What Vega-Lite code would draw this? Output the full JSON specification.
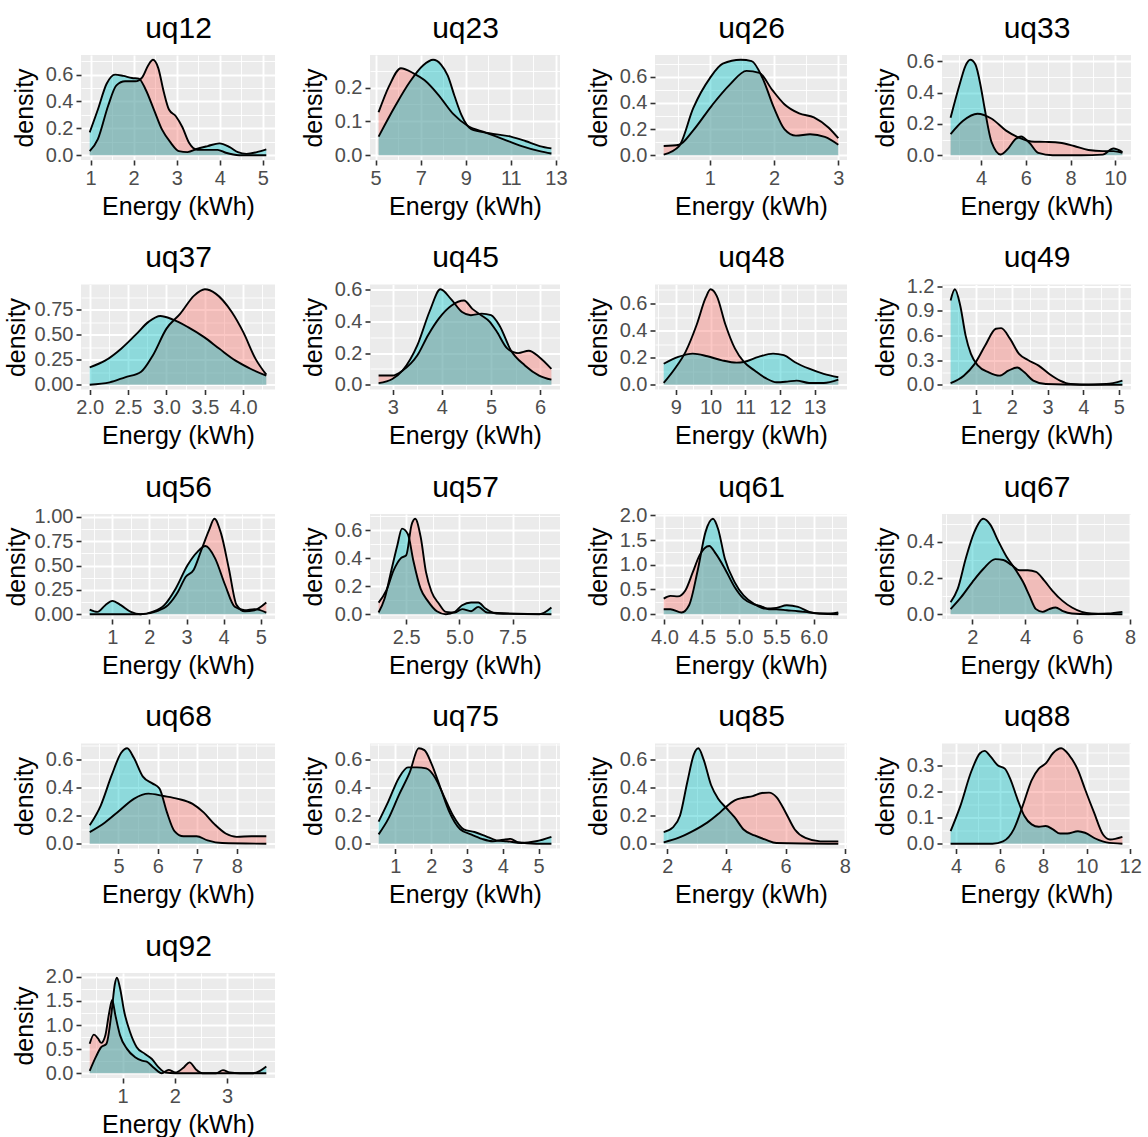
{
"$schema": "https://vega.github.io/schema/vega-lite/v6.json",
"padding": {"left": 4, "top": 13, "right": 0, "bottom": 0},
"columns": 4,
"align": "none",
"bounds": "flush",
"spacing": {"row": 124.5, "column": 95},
"datasets": {
"uq12": [{"x":0.98,"d":0.03,"s":"A"},{"x":1.17,"d":0.12,"s":"A"},{"x":1.41,"d":0.37,"s":"A"},{"x":1.6,"d":0.52,"s":"A"},{"x":1.8,"d":0.55,"s":"A"},{"x":2.04,"d":0.55,"s":"A"},{"x":2.2,"d":0.58,"s":"A"},{"x":2.34,"d":0.67,"s":"A"},{"x":2.45,"d":0.71,"s":"A"},{"x":2.57,"d":0.65,"s":"A"},{"x":2.7,"d":0.47,"s":"A"},{"x":2.82,"d":0.34,"s":"A"},{"x":2.98,"d":0.29,"s":"A"},{"x":3.13,"d":0.21,"s":"A"},{"x":3.29,"d":0.09,"s":"A"},{"x":3.48,"d":0.04,"s":"A"},{"x":3.72,"d":0.04,"s":"A"},{"x":3.95,"d":0.04,"s":"A"},{"x":4.14,"d":0.018,"s":"A"},{"x":4.45,"d":0,"s":"A"},{"x":5.08,"d":0,"s":"A"},
{"x":0.98,"d":0.17,"s":"B"},{"x":1.17,"d":0.34,"s":"B"},{"x":1.37,"d":0.53,"s":"B"},{"x":1.57,"d":0.6,"s":"B"},{"x":1.76,"d":0.59,"s":"B"},{"x":1.96,"d":0.575,"s":"B"},{"x":2.12,"d":0.57,"s":"B"},{"x":2.27,"d":0.495,"s":"B"},{"x":2.47,"d":0.34,"s":"B"},{"x":2.66,"d":0.19,"s":"B"},{"x":2.86,"d":0.093,"s":"B"},{"x":3.05,"d":0.03,"s":"B"},{"x":3.25,"d":0.023,"s":"B"},{"x":3.48,"d":0.048,"s":"B"},{"x":3.72,"d":0.068,"s":"B"},{"x":3.99,"d":0.088,"s":"B"},{"x":4.23,"d":0.06,"s":"B"},{"x":4.42,"d":0.023,"s":"B"},{"x":4.62,"d":0.01,"s":"B"},{"x":4.86,"d":0.023,"s":"B"},{"x":5.08,"d":0.043,"s":"B"}],
"uq23": [{"x":5.13,"d":0.127,"s":"A"},{"x":5.6,"d":0.205,"s":"A"},{"x":6.12,"d":0.257,"s":"A"},{"x":6.68,"d":0.242,"s":"A"},{"x":7.16,"d":0.222,"s":"A"},{"x":7.8,"d":0.177,"s":"A"},{"x":8.44,"d":0.122,"s":"A"},{"x":9.08,"d":0.087,"s":"A"},{"x":9.88,"d":0.067,"s":"A"},{"x":10.68,"d":0.047,"s":"A"},{"x":11.48,"d":0.027,"s":"A"},{"x":12.28,"d":0.012,"s":"A"},{"x":12.8,"d":0.005,"s":"A"},
{"x":5.13,"d":0.055,"s":"B"},{"x":5.88,"d":0.147,"s":"B"},{"x":6.52,"d":0.217,"s":"B"},{"x":7.1,"d":0.265,"s":"B"},{"x":7.55,"d":0.282,"s":"B"},{"x":7.9,"d":0.268,"s":"B"},{"x":8.2,"d":0.235,"s":"B"},{"x":8.5,"d":0.175,"s":"B"},{"x":8.8,"d":0.12,"s":"B"},{"x":9.24,"d":0.077,"s":"B"},{"x":10.04,"d":0.065,"s":"B"},{"x":11.0,"d":0.055,"s":"B"},{"x":11.64,"d":0.042,"s":"B"},{"x":12.28,"d":0.027,"s":"B"},{"x":12.8,"d":0.02,"s":"B"}],
"uq26": [{"x":0.28,"d":0.07,"s":"A"},{"x":0.52,"d":0.08,"s":"A"},{"x":0.74,"d":0.19,"s":"A"},{"x":1.03,"d":0.38,"s":"A"},{"x":1.31,"d":0.54,"s":"A"},{"x":1.57,"d":0.645,"s":"A"},{"x":1.77,"d":0.63,"s":"A"},{"x":1.97,"d":0.5,"s":"A"},{"x":2.16,"d":0.39,"s":"A"},{"x":2.39,"d":0.32,"s":"A"},{"x":2.62,"d":0.29,"s":"A"},{"x":2.85,"d":0.21,"s":"A"},{"x":3.0,"d":0.13,"s":"A"},
{"x":0.28,"d":0.005,"s":"B"},{"x":0.52,"d":0.07,"s":"B"},{"x":0.74,"d":0.36,"s":"B"},{"x":1.0,"d":0.59,"s":"B"},{"x":1.2,"d":0.7,"s":"B"},{"x":1.48,"d":0.73,"s":"B"},{"x":1.65,"d":0.72,"s":"B"},{"x":1.82,"d":0.59,"s":"B"},{"x":2.0,"d":0.36,"s":"B"},{"x":2.16,"d":0.2,"s":"B"},{"x":2.34,"d":0.15,"s":"B"},{"x":2.56,"d":0.16,"s":"B"},{"x":2.79,"d":0.14,"s":"B"},{"x":3.0,"d":0.08,"s":"B"}],
"uq33": [{"x":2.64,"d":0.135,"s":"A"},{"x":3.2,"d":0.22,"s":"A"},{"x":3.84,"d":0.265,"s":"A"},{"x":4.48,"d":0.233,"s":"A"},{"x":5.12,"d":0.157,"s":"A"},{"x":5.68,"d":0.113,"s":"A"},{"x":6.24,"d":0.088,"s":"A"},{"x":6.88,"d":0.085,"s":"A"},{"x":7.52,"d":0.08,"s":"A"},{"x":8.16,"d":0.059,"s":"A"},{"x":8.8,"d":0.033,"s":"A"},{"x":9.44,"d":0.026,"s":"A"},{"x":9.92,"d":0.026,"s":"A"},{"x":10.32,"d":0.015,"s":"A"},
{"x":2.64,"d":0.24,"s":"B"},{"x":3.04,"d":0.45,"s":"B"},{"x":3.3,"d":0.57,"s":"B"},{"x":3.52,"d":0.61,"s":"B"},{"x":3.75,"d":0.58,"s":"B"},{"x":4.0,"d":0.43,"s":"B"},{"x":4.16,"d":0.3,"s":"B"},{"x":4.48,"d":0.08,"s":"B"},{"x":4.88,"d":0.004,"s":"B"},{"x":5.2,"d":0.04,"s":"B"},{"x":5.52,"d":0.1,"s":"B"},{"x":5.79,"d":0.12,"s":"B"},{"x":6.16,"d":0.08,"s":"B"},{"x":6.56,"d":0.015,"s":"B"},{"x":7.2,"d":0,"s":"B"},{"x":8.48,"d":0,"s":"B"},{"x":9.44,"d":0.004,"s":"B"},{"x":9.92,"d":0.043,"s":"B"},{"x":10.32,"d":0.02,"s":"B"}],
"uq37": [{"x":2.0,"d":0.0,"s":"A"},{"x":2.26,"d":0.023,"s":"A"},{"x":2.46,"d":0.074,"s":"A"},{"x":2.67,"d":0.13,"s":"A"},{"x":2.82,"d":0.29,"s":"A"},{"x":3.0,"d":0.56,"s":"A"},{"x":3.18,"d":0.71,"s":"A"},{"x":3.36,"d":0.89,"s":"A"},{"x":3.5,"d":0.953,"s":"A"},{"x":3.64,"d":0.91,"s":"A"},{"x":3.85,"d":0.726,"s":"A"},{"x":4.0,"d":0.525,"s":"A"},{"x":4.16,"d":0.258,"s":"A"},{"x":4.3,"d":0.1,"s":"A"},
{"x":2.0,"d":0.174,"s":"B"},{"x":2.2,"d":0.24,"s":"B"},{"x":2.41,"d":0.36,"s":"B"},{"x":2.6,"d":0.5,"s":"B"},{"x":2.77,"d":0.63,"s":"B"},{"x":2.92,"d":0.686,"s":"B"},{"x":3.08,"d":0.652,"s":"B"},{"x":3.28,"d":0.575,"s":"B"},{"x":3.49,"d":0.475,"s":"B"},{"x":3.69,"d":0.358,"s":"B"},{"x":3.9,"d":0.24,"s":"B"},{"x":4.1,"d":0.157,"s":"B"},{"x":4.3,"d":0.09,"s":"B"}],
"uq45": [{"x":2.71,"d":0.058,"s":"A"},{"x":2.99,"d":0.058,"s":"A"},{"x":3.2,"d":0.09,"s":"A"},{"x":3.5,"d":0.186,"s":"A"},{"x":3.72,"d":0.315,"s":"A"},{"x":3.94,"d":0.42,"s":"A"},{"x":4.19,"d":0.5,"s":"A"},{"x":4.45,"d":0.533,"s":"A"},{"x":4.62,"d":0.48,"s":"A"},{"x":4.8,"d":0.44,"s":"A"},{"x":4.97,"d":0.4,"s":"A"},{"x":5.11,"d":0.34,"s":"A"},{"x":5.33,"d":0.23,"s":"A"},{"x":5.55,"d":0.2,"s":"A"},{"x":5.77,"d":0.215,"s":"A"},{"x":5.98,"d":0.176,"s":"A"},{"x":6.23,"d":0.1,"s":"A"},
{"x":2.71,"d":0.01,"s":"B"},{"x":2.99,"d":0.036,"s":"B"},{"x":3.2,"d":0.09,"s":"B"},{"x":3.5,"d":0.25,"s":"B"},{"x":3.75,"d":0.465,"s":"B"},{"x":3.97,"d":0.604,"s":"B"},{"x":4.19,"d":0.54,"s":"B"},{"x":4.41,"d":0.46,"s":"B"},{"x":4.59,"d":0.44,"s":"B"},{"x":4.81,"d":0.45,"s":"B"},{"x":5.0,"d":0.44,"s":"B"},{"x":5.18,"d":0.37,"s":"B"},{"x":5.4,"d":0.22,"s":"B"},{"x":5.69,"d":0.122,"s":"B"},{"x":5.98,"d":0.058,"s":"B"},{"x":6.23,"d":0.032,"s":"B"}],
"uq48": [{"x":8.65,"d":0.013,"s":"A"},{"x":8.97,"d":0.118,"s":"A"},{"x":9.28,"d":0.243,"s":"A"},{"x":9.6,"d":0.443,"s":"A"},{"x":9.86,"d":0.643,"s":"A"},{"x":10.0,"d":0.705,"s":"A"},{"x":10.18,"d":0.655,"s":"A"},{"x":10.43,"d":0.443,"s":"A"},{"x":10.7,"d":0.268,"s":"A"},{"x":10.96,"d":0.168,"s":"A"},{"x":11.27,"d":0.105,"s":"A"},{"x":11.59,"d":0.048,"s":"A"},{"x":11.9,"d":0.018,"s":"A"},{"x":12.21,"d":0.023,"s":"A"},{"x":12.48,"d":0.03,"s":"A"},{"x":12.84,"d":0.013,"s":"A"},{"x":13.26,"d":0.013,"s":"A"},{"x":13.68,"d":0.038,"s":"A"},
{"x":8.65,"d":0.155,"s":"B"},{"x":9.07,"d":0.205,"s":"B"},{"x":9.49,"d":0.23,"s":"B"},{"x":9.91,"d":0.21,"s":"B"},{"x":10.33,"d":0.18,"s":"B"},{"x":10.75,"d":0.163,"s":"B"},{"x":10.96,"d":0.168,"s":"B"},{"x":11.38,"d":0.205,"s":"B"},{"x":11.8,"d":0.23,"s":"B"},{"x":12.11,"d":0.218,"s":"B"},{"x":12.42,"d":0.168,"s":"B"},{"x":12.84,"d":0.118,"s":"B"},{"x":13.26,"d":0.08,"s":"B"},{"x":13.68,"d":0.055,"s":"B"}],
"uq49": [{"x":0.28,"d":0.02,"s":"A"},{"x":0.65,"d":0.11,"s":"A"},{"x":0.95,"d":0.25,"s":"A"},{"x":1.25,"d":0.476,"s":"A"},{"x":1.55,"d":0.68,"s":"A"},{"x":1.7,"d":0.688,"s":"A"},{"x":1.95,"d":0.557,"s":"A"},{"x":2.2,"d":0.374,"s":"A"},{"x":2.45,"d":0.3,"s":"A"},{"x":2.75,"d":0.232,"s":"A"},{"x":3.05,"d":0.13,"s":"A"},{"x":3.35,"d":0.05,"s":"A"},{"x":3.65,"d":0.008,"s":"A"},{"x":4.15,"d":0,"s":"A"},{"x":5.1,"d":0,"s":"A"},
{"x":0.28,"d":1.025,"s":"B"},{"x":0.4,"d":1.16,"s":"B"},{"x":0.55,"d":0.964,"s":"B"},{"x":0.7,"d":0.6,"s":"B"},{"x":0.85,"d":0.374,"s":"B"},{"x":1.05,"d":0.232,"s":"B"},{"x":1.35,"d":0.15,"s":"B"},{"x":1.65,"d":0.11,"s":"B"},{"x":1.9,"d":0.17,"s":"B"},{"x":2.15,"d":0.21,"s":"B"},{"x":2.35,"d":0.15,"s":"B"},{"x":2.6,"d":0.05,"s":"B"},{"x":2.95,"d":0.008,"s":"B"},{"x":3.95,"d":0,"s":"B"},{"x":4.65,"d":0.008,"s":"B"},{"x":5.1,"d":0.05,"s":"B"}],
"uq56": [{"x":0.39,"d":0,"s":"A"},{"x":1.13,"d":0,"s":"A"},{"x":1.76,"d":0,"s":"A"},{"x":2.19,"d":0.03,"s":"A"},{"x":2.5,"d":0.093,"s":"A"},{"x":2.77,"d":0.23,"s":"A"},{"x":2.98,"d":0.385,"s":"A"},{"x":3.19,"d":0.454,"s":"A"},{"x":3.4,"d":0.66,"s":"A"},{"x":3.61,"d":0.866,"s":"A"},{"x":3.75,"d":0.98,"s":"A"},{"x":3.93,"d":0.83,"s":"A"},{"x":4.14,"d":0.47,"s":"A"},{"x":4.35,"d":0.093,"s":"A"},{"x":4.57,"d":0.03,"s":"A"},{"x":4.83,"d":0.041,"s":"A"},{"x":5.15,"d":0.12,"s":"A"},
{"x":0.39,"d":0.048,"s":"B"},{"x":0.6,"d":0.024,"s":"B"},{"x":0.81,"d":0.093,"s":"B"},{"x":1.0,"d":0.137,"s":"B"},{"x":1.23,"d":0.093,"s":"B"},{"x":1.5,"d":0.024,"s":"B"},{"x":1.76,"d":0,"s":"B"},{"x":2.08,"d":0.024,"s":"B"},{"x":2.4,"d":0.093,"s":"B"},{"x":2.71,"d":0.265,"s":"B"},{"x":3.03,"d":0.505,"s":"B"},{"x":3.3,"d":0.643,"s":"B"},{"x":3.51,"d":0.7,"s":"B"},{"x":3.77,"d":0.574,"s":"B"},{"x":4.04,"d":0.3,"s":"B"},{"x":4.3,"d":0.076,"s":"B"},{"x":4.57,"d":0.041,"s":"B"},{"x":4.83,"d":0.052,"s":"B"},{"x":5.15,"d":0.017,"s":"B"}],
"uq57": [{"x":1.2,"d":0.083,"s":"A"},{"x":1.57,"d":0.171,"s":"A"},{"x":1.91,"d":0.314,"s":"A"},{"x":2.25,"d":0.4,"s":"A"},{"x":2.5,"d":0.42,"s":"A"},{"x":2.75,"d":0.636,"s":"A"},{"x":2.92,"d":0.68,"s":"A"},{"x":3.18,"d":0.55,"s":"A"},{"x":3.43,"d":0.3,"s":"A"},{"x":3.69,"d":0.16,"s":"A"},{"x":4.03,"d":0.076,"s":"A"},{"x":4.36,"d":0.017,"s":"A"},{"x":4.79,"d":0.012,"s":"A"},{"x":5.13,"d":0.036,"s":"A"},{"x":5.55,"d":0.021,"s":"A"},{"x":5.89,"d":0.052,"s":"A"},{"x":6.31,"d":0.012,"s":"A"},{"x":9.33,"d":0,"s":"A"},
{"x":1.2,"d":0.012,"s":"B"},{"x":1.48,"d":0.11,"s":"B"},{"x":1.82,"d":0.326,"s":"B"},{"x":2.08,"d":0.49,"s":"B"},{"x":2.3,"d":0.61,"s":"B"},{"x":2.58,"d":0.57,"s":"B"},{"x":2.83,"d":0.385,"s":"B"},{"x":3.18,"d":0.18,"s":"B"},{"x":3.52,"d":0.093,"s":"B"},{"x":3.94,"d":0.021,"s":"B"},{"x":4.36,"d":0,"s":"B"},{"x":4.79,"d":0.017,"s":"B"},{"x":5.13,"d":0.064,"s":"B"},{"x":5.55,"d":0.083,"s":"B"},{"x":5.89,"d":0.083,"s":"B"},{"x":6.23,"d":0.04,"s":"B"},{"x":6.74,"d":0.005,"s":"B"},{"x":8.77,"d":0,"s":"B"},{"x":9.33,"d":0.048,"s":"B"}],
"uq61": [{"x":3.99,"d":0.315,"s":"A"},{"x":4.08,"d":0.37,"s":"A"},{"x":4.18,"d":0.36,"s":"A"},{"x":4.28,"d":0.48,"s":"A"},{"x":4.38,"d":0.85,"s":"A"},{"x":4.47,"d":1.19,"s":"A"},{"x":4.6,"d":1.38,"s":"A"},{"x":4.69,"d":1.22,"s":"A"},{"x":4.81,"d":0.92,"s":"A"},{"x":4.94,"d":0.55,"s":"A"},{"x":5.06,"d":0.315,"s":"A"},{"x":5.2,"d":0.2,"s":"A"},{"x":5.3,"d":0.16,"s":"A"},{"x":5.4,"d":0.1,"s":"A"},{"x":5.5,"d":0.1,"s":"A"},{"x":5.64,"d":0.08,"s":"A"},{"x":5.79,"d":0.06,"s":"A"},{"x":5.94,"d":0.034,"s":"A"},{"x":6.08,"d":0.013,"s":"A"},{"x":6.33,"d":0,"s":"A"},
{"x":3.99,"d":0.1,"s":"B"},{"x":4.08,"d":0.1,"s":"B"},{"x":4.23,"d":0.034,"s":"B"},{"x":4.33,"d":0.18,"s":"B"},{"x":4.45,"d":0.92,"s":"B"},{"x":4.55,"d":1.66,"s":"B"},{"x":4.65,"d":1.93,"s":"B"},{"x":4.72,"d":1.72,"s":"B"},{"x":4.81,"d":1.12,"s":"B"},{"x":4.94,"d":0.65,"s":"B"},{"x":5.06,"d":0.38,"s":"B"},{"x":5.2,"d":0.21,"s":"B"},{"x":5.35,"d":0.114,"s":"B"},{"x":5.5,"d":0.128,"s":"B"},{"x":5.64,"d":0.18,"s":"B"},{"x":5.79,"d":0.148,"s":"B"},{"x":5.94,"d":0.047,"s":"B"},{"x":6.08,"d":0.013,"s":"B"},{"x":6.23,"d":0.013,"s":"B"},{"x":6.33,"d":0.034,"s":"B"}],
"uq67": [{"x":1.17,"d":0.028,"s":"A"},{"x":1.57,"d":0.094,"s":"A"},{"x":2.0,"d":0.178,"s":"A"},{"x":2.43,"d":0.253,"s":"A"},{"x":2.87,"d":0.305,"s":"A"},{"x":3.18,"d":0.3,"s":"A"},{"x":3.49,"d":0.272,"s":"A"},{"x":3.8,"d":0.243,"s":"A"},{"x":4.11,"d":0.243,"s":"A"},{"x":4.42,"d":0.234,"s":"A"},{"x":4.73,"d":0.187,"s":"A"},{"x":5.04,"d":0.131,"s":"A"},{"x":5.42,"d":0.075,"s":"A"},{"x":5.79,"d":0.037,"s":"A"},{"x":6.16,"d":0.013,"s":"A"},{"x":6.53,"d":0.004,"s":"A"},{"x":7.71,"d":0,"s":"A"},
{"x":1.17,"d":0.066,"s":"B"},{"x":1.44,"d":0.14,"s":"B"},{"x":1.75,"d":0.31,"s":"B"},{"x":2.06,"d":0.45,"s":"B"},{"x":2.41,"d":0.528,"s":"B"},{"x":2.68,"d":0.496,"s":"B"},{"x":2.99,"d":0.403,"s":"B"},{"x":3.3,"d":0.318,"s":"B"},{"x":3.61,"d":0.253,"s":"B"},{"x":3.93,"d":0.178,"s":"B"},{"x":4.17,"d":0.103,"s":"B"},{"x":4.42,"d":0.028,"s":"B"},{"x":4.67,"d":0.013,"s":"B"},{"x":4.92,"d":0.028,"s":"B"},{"x":5.17,"d":0.037,"s":"B"},{"x":5.42,"d":0.019,"s":"B"},{"x":5.79,"d":0.004,"s":"B"},{"x":6.41,"d":0,"s":"B"},{"x":7.16,"d":0.004,"s":"B"},{"x":7.71,"d":0.013,"s":"B"}],
"uq68": [{"x":4.27,"d":0.083,"s":"A"},{"x":4.65,"d":0.15,"s":"A"},{"x":5.02,"d":0.235,"s":"A"},{"x":5.39,"d":0.32,"s":"A"},{"x":5.76,"d":0.357,"s":"A"},{"x":6.14,"d":0.34,"s":"A"},{"x":6.51,"d":0.32,"s":"A"},{"x":6.88,"d":0.284,"s":"A"},{"x":7.16,"d":0.223,"s":"A"},{"x":7.44,"d":0.138,"s":"A"},{"x":7.72,"d":0.073,"s":"A"},{"x":8.0,"d":0.049,"s":"A"},{"x":8.37,"d":0.053,"s":"A"},{"x":8.75,"d":0.053,"s":"A"},
{"x":4.27,"d":0.131,"s":"B"},{"x":4.55,"d":0.272,"s":"B"},{"x":4.83,"d":0.49,"s":"B"},{"x":5.07,"d":0.648,"s":"B"},{"x":5.22,"d":0.68,"s":"B"},{"x":5.39,"d":0.612,"s":"B"},{"x":5.62,"d":0.478,"s":"B"},{"x":5.86,"d":0.43,"s":"B"},{"x":6.04,"d":0.393,"s":"B"},{"x":6.23,"d":0.223,"s":"B"},{"x":6.42,"d":0.09,"s":"B"},{"x":6.65,"d":0.053,"s":"B"},{"x":6.98,"d":0.053,"s":"B"},{"x":7.26,"d":0.024,"s":"B"},{"x":7.63,"d":0.005,"s":"B"},{"x":8.75,"d":0,"s":"B"}],
"uq75": [{"x":0.53,"d":0.066,"s":"A"},{"x":0.8,"d":0.176,"s":"A"},{"x":1.1,"d":0.346,"s":"A"},{"x":1.4,"d":0.505,"s":"A"},{"x":1.65,"d":0.676,"s":"A"},{"x":1.81,"d":0.663,"s":"A"},{"x":2.01,"d":0.566,"s":"A"},{"x":2.26,"d":0.395,"s":"A"},{"x":2.51,"d":0.224,"s":"A"},{"x":2.81,"d":0.102,"s":"A"},{"x":3.11,"d":0.066,"s":"A"},{"x":3.42,"d":0.034,"s":"A"},{"x":3.72,"d":0.017,"s":"A"},{"x":4.02,"d":0.029,"s":"A"},{"x":4.22,"d":0.034,"s":"A"},{"x":4.42,"d":0.01,"s":"A"},{"x":4.93,"d":0,"s":"A"},{"x":5.36,"d":0,"s":"A"},
{"x":0.53,"d":0.156,"s":"B"},{"x":0.8,"d":0.298,"s":"B"},{"x":1.1,"d":0.468,"s":"B"},{"x":1.35,"d":0.541,"s":"B"},{"x":1.6,"d":0.541,"s":"B"},{"x":1.86,"d":0.534,"s":"B"},{"x":2.11,"d":0.468,"s":"B"},{"x":2.36,"d":0.334,"s":"B"},{"x":2.61,"d":0.2,"s":"B"},{"x":2.91,"d":0.102,"s":"B"},{"x":3.21,"d":0.083,"s":"B"},{"x":3.52,"d":0.054,"s":"B"},{"x":3.82,"d":0.024,"s":"B"},{"x":4.12,"d":0.017,"s":"B"},{"x":4.52,"d":0.005,"s":"B"},{"x":4.93,"d":0.017,"s":"B"},{"x":5.36,"d":0.049,"s":"B"}],
"uq85": [{"x":1.88,"d":0.01,"s":"A"},{"x":2.37,"d":0.041,"s":"A"},{"x":2.86,"d":0.09,"s":"A"},{"x":3.35,"d":0.151,"s":"A"},{"x":3.72,"d":0.212,"s":"A"},{"x":3.97,"d":0.261,"s":"A"},{"x":4.28,"d":0.31,"s":"A"},{"x":4.58,"d":0.329,"s":"A"},{"x":4.89,"d":0.341,"s":"A"},{"x":5.2,"d":0.363,"s":"A"},{"x":5.44,"d":0.366,"s":"A"},{"x":5.69,"d":0.334,"s":"A"},{"x":6.0,"d":0.224,"s":"A"},{"x":6.31,"d":0.102,"s":"A"},{"x":6.67,"d":0.041,"s":"A"},{"x":7.17,"d":0.017,"s":"A"},{"x":7.78,"d":0.017,"s":"A"},
{"x":1.88,"d":0.083,"s":"B"},{"x":2.18,"d":0.115,"s":"B"},{"x":2.43,"d":0.2,"s":"B"},{"x":2.68,"d":0.444,"s":"B"},{"x":2.9,"d":0.64,"s":"B"},{"x":3.05,"d":0.683,"s":"B"},{"x":3.23,"d":0.602,"s":"B"},{"x":3.48,"d":0.42,"s":"B"},{"x":3.72,"d":0.322,"s":"B"},{"x":3.97,"d":0.261,"s":"B"},{"x":4.28,"d":0.188,"s":"B"},{"x":4.58,"d":0.102,"s":"B"},{"x":4.95,"d":0.059,"s":"B"},{"x":5.32,"d":0.029,"s":"B"},{"x":5.69,"d":0.005,"s":"B"},{"x":7.78,"d":0,"s":"B"}],
"uq88": [{"x":3.75,"d":0,"s":"A"},{"x":5.67,"d":0,"s":"A"},{"x":6.16,"d":0.009,"s":"A"},{"x":6.65,"d":0.055,"s":"A"},{"x":7.06,"d":0.145,"s":"A"},{"x":7.47,"d":0.243,"s":"A"},{"x":7.8,"d":0.288,"s":"A"},{"x":8.12,"d":0.308,"s":"A"},{"x":8.45,"d":0.347,"s":"A"},{"x":8.83,"d":0.366,"s":"A"},{"x":9.19,"d":0.34,"s":"A"},{"x":9.6,"d":0.282,"s":"A"},{"x":9.92,"d":0.21,"s":"A"},{"x":10.34,"d":0.119,"s":"A"},{"x":10.75,"d":0.035,"s":"A"},{"x":11.07,"d":0.016,"s":"A"},{"x":11.64,"d":0.026,"s":"A"},
{"x":3.75,"d":0.048,"s":"B"},{"x":4.2,"d":0.145,"s":"B"},{"x":4.69,"d":0.275,"s":"B"},{"x":5.1,"d":0.347,"s":"B"},{"x":5.31,"d":0.356,"s":"B"},{"x":5.59,"d":0.334,"s":"B"},{"x":5.91,"d":0.301,"s":"B"},{"x":6.24,"d":0.288,"s":"B"},{"x":6.49,"d":0.249,"s":"B"},{"x":6.82,"d":0.171,"s":"B"},{"x":7.14,"d":0.106,"s":"B"},{"x":7.47,"d":0.074,"s":"B"},{"x":7.8,"d":0.065,"s":"B"},{"x":8.12,"d":0.068,"s":"B"},{"x":8.45,"d":0.055,"s":"B"},{"x":8.78,"d":0.039,"s":"B"},{"x":9.11,"d":0.039,"s":"B"},{"x":9.6,"d":0.048,"s":"B"},{"x":9.92,"d":0.042,"s":"B"},{"x":10.42,"d":0.019,"s":"B"},{"x":10.91,"d":0.005,"s":"B"},{"x":11.64,"d":0,"s":"B"}],
"uq92": [{"x":0.37,"d":0.61,"s":"A"},{"x":0.45,"d":0.8,"s":"A"},{"x":0.53,"d":0.72,"s":"A"},{"x":0.59,"d":0.63,"s":"A"},{"x":0.67,"d":0.79,"s":"A"},{"x":0.74,"d":1.24,"s":"A"},{"x":0.8,"d":1.52,"s":"A"},{"x":0.86,"d":1.21,"s":"A"},{"x":0.95,"d":0.79,"s":"A"},{"x":1.08,"d":0.51,"s":"A"},{"x":1.24,"d":0.33,"s":"A"},{"x":1.37,"d":0.26,"s":"A"},{"x":1.46,"d":0.24,"s":"A"},{"x":1.59,"d":0.12,"s":"A"},{"x":1.75,"d":0,"s":"A"},{"x":1.88,"d":0.07,"s":"A"},{"x":2.01,"d":0.014,"s":"A"},{"x":2.17,"d":0.12,"s":"A"},{"x":2.28,"d":0.225,"s":"A"},{"x":2.4,"d":0.084,"s":"A"},{"x":2.53,"d":0,"s":"A"},{"x":2.79,"d":0,"s":"A"},{"x":2.92,"d":0.063,"s":"A"},{"x":3.05,"d":0.014,"s":"A"},{"x":3.24,"d":0,"s":"A"},{"x":3.75,"d":0,"s":"A"},
{"x":0.37,"d":0.05,"s":"B"},{"x":0.5,"d":0.365,"s":"B"},{"x":0.59,"d":0.54,"s":"B"},{"x":0.69,"d":0.61,"s":"B"},{"x":0.79,"d":1.28,"s":"B"},{"x":0.85,"d":1.84,"s":"B"},{"x":0.89,"d":1.98,"s":"B"},{"x":0.95,"d":1.77,"s":"B"},{"x":1.03,"d":1.28,"s":"B"},{"x":1.14,"d":0.86,"s":"B"},{"x":1.27,"d":0.54,"s":"B"},{"x":1.43,"d":0.4,"s":"B"},{"x":1.56,"d":0.295,"s":"B"},{"x":1.69,"d":0.12,"s":"B"},{"x":1.82,"d":0.014,"s":"B"},{"x":2.01,"d":0,"s":"B"},{"x":3.5,"d":0,"s":"B"},{"x":3.63,"d":0.05,"s":"B"},{"x":3.75,"d":0.14,"s":"B"}]
},
"concat": [
{"width":194,"height":105,"data":{"name":"uq12"},"encoding":{"y":{"field":"d","type":"quantitative","title":"density","stack":null,"scale":{"zero":true,"nice":false,"padding":4.8},"axis":{"values":[0,0.1,0.2,0.3,0.4,0.5,0.6,0.7],"format":".1f","labelExpr":"abs(datum.value*5-round(datum.value*5))<1e-6 ? datum.label : ''","gridWidth":{"condition":{"test":"abs(datum.value*5-round(datum.value*5))<1e-6","value":1.9},"value":0.9},"tickOpacity":{"condition":{"test":"abs(datum.value*5-round(datum.value*5))<1e-6","value":1},"value":0}}}},"layer":[{"mark":{"type":"area","interpolate":"monotone","opacity":0.4},"encoding":{"x":{"field":"x","type":"quantitative","title":"Energy (kWh)","scale":{"zero":false,"nice":false,"padding":8.7},"axis":{"orient":"bottom","values":[1,1.5,2,2.5,3,3.5,4,4.5,5],"format":".0f","labelExpr":"abs(datum.value-round(datum.value))<1e-6 ? datum.label : ''","gridWidth":{"condition":{"test":"abs(datum.value-round(datum.value))<1e-6","value":1.9},"value":0.9},"tickOpacity":{"condition":{"test":"abs(datum.value-round(datum.value))<1e-6","value":1},"value":0}}},"color":{"field":"s","type":"nominal","scale":{"domain":["A","B"],"range":["#F8766D","#00BFC4"]},"legend":null}}},{"mark":{"type":"line","interpolate":"monotone","color":"black","strokeWidth":1.9},"encoding":{"x":{"field":"x","type":"quantitative","axis":{"orient":"top","title":"uq12","labels":false,"ticks":false,"grid":false,"domain":false,"titleFontSize":30,"titlePadding":12}},"detail":{"field":"s","type":"nominal"}}}],"resolve":{"axis":{"x":"independent"}}},
{"width":190,"height":105,"data":{"name":"uq23"},"encoding":{"y":{"field":"d","type":"quantitative","title":"density","stack":null,"scale":{"zero":true,"nice":false,"padding":4.8},"axis":{"values":[0,0.05,0.1,0.15,0.2,0.25],"format":".1f","labelExpr":"abs(datum.value*10-round(datum.value*10))<1e-6 ? datum.label : ''","gridWidth":{"condition":{"test":"abs(datum.value*10-round(datum.value*10))<1e-6","value":1.9},"value":0.9},"tickOpacity":{"condition":{"test":"abs(datum.value*10-round(datum.value*10))<1e-6","value":1},"value":0}}}},"layer":[{"mark":{"type":"area","interpolate":"monotone","opacity":0.4},"encoding":{"x":{"field":"x","type":"quantitative","title":"Energy (kWh)","scale":{"zero":false,"nice":false,"padding":8.6},"axis":{"orient":"bottom","values":[5,6,7,8,9,10,11,12,13],"format":".0f","labelExpr":"abs((datum.value-1)/2-round((datum.value-1)/2))<1e-6 ? datum.label : ''","gridWidth":{"condition":{"test":"abs((datum.value-1)/2-round((datum.value-1)/2))<1e-6","value":1.9},"value":0.9},"tickOpacity":{"condition":{"test":"abs((datum.value-1)/2-round((datum.value-1)/2))<1e-6","value":1},"value":0}}},"color":{"field":"s","type":"nominal","scale":{"domain":["A","B"],"range":["#F8766D","#00BFC4"]},"legend":null}}},{"mark":{"type":"line","interpolate":"monotone","color":"black","strokeWidth":1.9},"encoding":{"x":{"field":"x","type":"quantitative","axis":{"orient":"top","title":"uq23","labels":false,"ticks":false,"grid":false,"domain":false,"titleFontSize":30,"titlePadding":12}},"detail":{"field":"s","type":"nominal"}}}],"resolve":{"axis":{"x":"independent"}}},
{"width":192,"height":105,"data":{"name":"uq26"},"encoding":{"y":{"field":"d","type":"quantitative","title":"density","stack":null,"scale":{"zero":true,"nice":false,"padding":4.8},"axis":{"values":[0,0.1,0.2,0.3,0.4,0.5,0.6,0.7],"format":".1f","labelExpr":"abs(datum.value*5-round(datum.value*5))<1e-6 ? datum.label : ''","gridWidth":{"condition":{"test":"abs(datum.value*5-round(datum.value*5))<1e-6","value":1.9},"value":0.9},"tickOpacity":{"condition":{"test":"abs(datum.value*5-round(datum.value*5))<1e-6","value":1},"value":0}}}},"layer":[{"mark":{"type":"area","interpolate":"monotone","opacity":0.4},"encoding":{"x":{"field":"x","type":"quantitative","title":"Energy (kWh)","scale":{"zero":false,"nice":false,"padding":8.7},"axis":{"orient":"bottom","values":[0.5,1,1.5,2,2.5,3],"format":".0f","labelExpr":"abs(datum.value-round(datum.value))<1e-6 ? datum.label : ''","gridWidth":{"condition":{"test":"abs(datum.value-round(datum.value))<1e-6","value":1.9},"value":0.9},"tickOpacity":{"condition":{"test":"abs(datum.value-round(datum.value))<1e-6","value":1},"value":0}}},"color":{"field":"s","type":"nominal","scale":{"domain":["A","B"],"range":["#F8766D","#00BFC4"]},"legend":null}}},{"mark":{"type":"line","interpolate":"monotone","color":"black","strokeWidth":1.9},"encoding":{"x":{"field":"x","type":"quantitative","axis":{"orient":"top","title":"uq26","labels":false,"ticks":false,"grid":false,"domain":false,"titleFontSize":30,"titlePadding":12}},"detail":{"field":"s","type":"nominal"}}}],"resolve":{"axis":{"x":"independent"}}},
{"width":189,"height":105,"data":{"name":"uq33"},"encoding":{"y":{"field":"d","type":"quantitative","title":"density","stack":null,"scale":{"zero":true,"nice":false,"padding":4.8},"axis":{"values":[0,0.1,0.2,0.3,0.4,0.5,0.6],"format":".1f","labelExpr":"abs(datum.value*5-round(datum.value*5))<1e-6 ? datum.label : ''","gridWidth":{"condition":{"test":"abs(datum.value*5-round(datum.value*5))<1e-6","value":1.9},"value":0.9},"tickOpacity":{"condition":{"test":"abs(datum.value*5-round(datum.value*5))<1e-6","value":1},"value":0}}}},"layer":[{"mark":{"type":"area","interpolate":"monotone","opacity":0.4},"encoding":{"x":{"field":"x","type":"quantitative","title":"Energy (kWh)","scale":{"zero":false,"nice":false,"padding":8.6},"axis":{"orient":"bottom","values":[3,4,5,6,7,8,9,10],"format":".0f","labelExpr":"abs(datum.value/2-round(datum.value/2))<1e-6 ? datum.label : ''","gridWidth":{"condition":{"test":"abs(datum.value/2-round(datum.value/2))<1e-6","value":1.9},"value":0.9},"tickOpacity":{"condition":{"test":"abs(datum.value/2-round(datum.value/2))<1e-6","value":1},"value":0}}},"color":{"field":"s","type":"nominal","scale":{"domain":["A","B"],"range":["#F8766D","#00BFC4"]},"legend":null}}},{"mark":{"type":"line","interpolate":"monotone","color":"black","strokeWidth":1.9},"encoding":{"x":{"field":"x","type":"quantitative","axis":{"orient":"top","title":"uq33","labels":false,"ticks":false,"grid":false,"domain":false,"titleFontSize":30,"titlePadding":12}},"detail":{"field":"s","type":"nominal"}}}],"resolve":{"axis":{"x":"independent"}}},
{"width":194,"height":105,"data":{"name":"uq37"},"encoding":{"y":{"field":"d","type":"quantitative","title":"density","stack":null,"scale":{"zero":true,"nice":false,"padding":4.8},"axis":{"titlePadding":5,"values":[0,0.125,0.25,0.375,0.5,0.625,0.75,0.875],"format":".2f","labelExpr":"abs(datum.value*4-round(datum.value*4))<1e-6 ? datum.label : ''","gridWidth":{"condition":{"test":"abs(datum.value*4-round(datum.value*4))<1e-6","value":1.9},"value":0.9},"tickOpacity":{"condition":{"test":"abs(datum.value*4-round(datum.value*4))<1e-6","value":1},"value":0}}}},"layer":[{"mark":{"type":"area","interpolate":"monotone","opacity":0.4},"encoding":{"x":{"field":"x","type":"quantitative","title":"Energy (kWh)","scale":{"zero":false,"nice":false,"padding":8.7},"axis":{"orient":"bottom","values":[2,2.25,2.5,2.75,3,3.25,3.5,3.75,4,4.25],"format":".1f","labelExpr":"abs(datum.value*2-round(datum.value*2))<1e-6 ? datum.label : ''","gridWidth":{"condition":{"test":"abs(datum.value*2-round(datum.value*2))<1e-6","value":1.9},"value":0.9},"tickOpacity":{"condition":{"test":"abs(datum.value*2-round(datum.value*2))<1e-6","value":1},"value":0}}},"color":{"field":"s","type":"nominal","scale":{"domain":["A","B"],"range":["#F8766D","#00BFC4"]},"legend":null}}},{"mark":{"type":"line","interpolate":"monotone","color":"black","strokeWidth":1.9},"encoding":{"x":{"field":"x","type":"quantitative","axis":{"orient":"top","title":"uq37","labels":false,"ticks":false,"grid":false,"domain":false,"titleFontSize":30,"titlePadding":12}},"detail":{"field":"s","type":"nominal"}}}],"resolve":{"axis":{"x":"independent"}}},
{"width":190,"height":105,"data":{"name":"uq45"},"encoding":{"y":{"field":"d","type":"quantitative","title":"density","stack":null,"scale":{"zero":true,"nice":false,"padding":4.8},"axis":{"values":[0,0.1,0.2,0.3,0.4,0.5,0.6],"format":".1f","labelExpr":"abs(datum.value*5-round(datum.value*5))<1e-6 ? datum.label : ''","gridWidth":{"condition":{"test":"abs(datum.value*5-round(datum.value*5))<1e-6","value":1.9},"value":0.9},"tickOpacity":{"condition":{"test":"abs(datum.value*5-round(datum.value*5))<1e-6","value":1},"value":0}}}},"layer":[{"mark":{"type":"area","interpolate":"monotone","opacity":0.4},"encoding":{"x":{"field":"x","type":"quantitative","title":"Energy (kWh)","scale":{"zero":false,"nice":false,"padding":8.6},"axis":{"orient":"bottom","values":[3,3.5,4,4.5,5,5.5,6],"format":".0f","labelExpr":"abs(datum.value-round(datum.value))<1e-6 ? datum.label : ''","gridWidth":{"condition":{"test":"abs(datum.value-round(datum.value))<1e-6","value":1.9},"value":0.9},"tickOpacity":{"condition":{"test":"abs(datum.value-round(datum.value))<1e-6","value":1},"value":0}}},"color":{"field":"s","type":"nominal","scale":{"domain":["A","B"],"range":["#F8766D","#00BFC4"]},"legend":null}}},{"mark":{"type":"line","interpolate":"monotone","color":"black","strokeWidth":1.9},"encoding":{"x":{"field":"x","type":"quantitative","axis":{"orient":"top","title":"uq45","labels":false,"ticks":false,"grid":false,"domain":false,"titleFontSize":30,"titlePadding":12}},"detail":{"field":"s","type":"nominal"}}}],"resolve":{"axis":{"x":"independent"}}},
{"width":192,"height":105,"data":{"name":"uq48"},"encoding":{"y":{"field":"d","type":"quantitative","title":"density","stack":null,"scale":{"zero":true,"nice":false,"padding":4.8},"axis":{"values":[0,0.1,0.2,0.3,0.4,0.5,0.6,0.7],"format":".1f","labelExpr":"abs(datum.value*5-round(datum.value*5))<1e-6 ? datum.label : ''","gridWidth":{"condition":{"test":"abs(datum.value*5-round(datum.value*5))<1e-6","value":1.9},"value":0.9},"tickOpacity":{"condition":{"test":"abs(datum.value*5-round(datum.value*5))<1e-6","value":1},"value":0}}}},"layer":[{"mark":{"type":"area","interpolate":"monotone","opacity":0.4},"encoding":{"x":{"field":"x","type":"quantitative","title":"Energy (kWh)","scale":{"zero":false,"nice":false,"padding":8.7},"axis":{"orient":"bottom","values":[8.5,9,9.5,10,10.5,11,11.5,12,12.5,13,13.5],"format":".0f","labelExpr":"abs(datum.value-round(datum.value))<1e-6 ? datum.label : ''","gridWidth":{"condition":{"test":"abs(datum.value-round(datum.value))<1e-6","value":1.9},"value":0.9},"tickOpacity":{"condition":{"test":"abs(datum.value-round(datum.value))<1e-6","value":1},"value":0}}},"color":{"field":"s","type":"nominal","scale":{"domain":["A","B"],"range":["#F8766D","#00BFC4"]},"legend":null}}},{"mark":{"type":"line","interpolate":"monotone","color":"black","strokeWidth":1.9},"encoding":{"x":{"field":"x","type":"quantitative","axis":{"orient":"top","title":"uq48","labels":false,"ticks":false,"grid":false,"domain":false,"titleFontSize":30,"titlePadding":12}},"detail":{"field":"s","type":"nominal"}}}],"resolve":{"axis":{"x":"independent"}}},
{"width":189,"height":105,"data":{"name":"uq49"},"encoding":{"y":{"field":"d","type":"quantitative","title":"density","stack":null,"scale":{"zero":true,"nice":false,"padding":4.8},"axis":{"values":[0,0.15,0.3,0.45,0.6,0.75,0.9,1.05,1.2],"format":".1f","labelExpr":"abs(datum.value*10/3-round(datum.value*10/3))<1e-6 ? datum.label : ''","gridWidth":{"condition":{"test":"abs(datum.value*10/3-round(datum.value*10/3))<1e-6","value":1.9},"value":0.9},"tickOpacity":{"condition":{"test":"abs(datum.value*10/3-round(datum.value*10/3))<1e-6","value":1},"value":0}}}},"layer":[{"mark":{"type":"area","interpolate":"monotone","opacity":0.4},"encoding":{"x":{"field":"x","type":"quantitative","title":"Energy (kWh)","scale":{"zero":false,"nice":false,"padding":8.6},"axis":{"orient":"bottom","values":[0.5,1,1.5,2,2.5,3,3.5,4,4.5,5],"format":".0f","labelExpr":"abs(datum.value-round(datum.value))<1e-6 ? datum.label : ''","gridWidth":{"condition":{"test":"abs(datum.value-round(datum.value))<1e-6","value":1.9},"value":0.9},"tickOpacity":{"condition":{"test":"abs(datum.value-round(datum.value))<1e-6","value":1},"value":0}}},"color":{"field":"s","type":"nominal","scale":{"domain":["A","B"],"range":["#F8766D","#00BFC4"]},"legend":null}}},{"mark":{"type":"line","interpolate":"monotone","color":"black","strokeWidth":1.9},"encoding":{"x":{"field":"x","type":"quantitative","axis":{"orient":"top","title":"uq49","labels":false,"ticks":false,"grid":false,"domain":false,"titleFontSize":30,"titlePadding":12}},"detail":{"field":"s","type":"nominal"}}}],"resolve":{"axis":{"x":"independent"}}},
{"width":194,"height":105,"data":{"name":"uq56"},"encoding":{"y":{"field":"d","type":"quantitative","title":"density","stack":null,"scale":{"zero":true,"nice":false,"padding":4.8},"axis":{"titlePadding":5,"values":[0,0.125,0.25,0.375,0.5,0.625,0.75,0.875,1],"format":".2f","labelExpr":"abs(datum.value*4-round(datum.value*4))<1e-6 ? datum.label : ''","gridWidth":{"condition":{"test":"abs(datum.value*4-round(datum.value*4))<1e-6","value":1.9},"value":0.9},"tickOpacity":{"condition":{"test":"abs(datum.value*4-round(datum.value*4))<1e-6","value":1},"value":0}}}},"layer":[{"mark":{"type":"area","interpolate":"monotone","opacity":0.4},"encoding":{"x":{"field":"x","type":"quantitative","title":"Energy (kWh)","scale":{"zero":false,"nice":false,"padding":8.7},"axis":{"orient":"bottom","values":[0.5,1,1.5,2,2.5,3,3.5,4,4.5,5],"format":".0f","labelExpr":"abs(datum.value-round(datum.value))<1e-6 ? datum.label : ''","gridWidth":{"condition":{"test":"abs(datum.value-round(datum.value))<1e-6","value":1.9},"value":0.9},"tickOpacity":{"condition":{"test":"abs(datum.value-round(datum.value))<1e-6","value":1},"value":0}}},"color":{"field":"s","type":"nominal","scale":{"domain":["A","B"],"range":["#F8766D","#00BFC4"]},"legend":null}}},{"mark":{"type":"line","interpolate":"monotone","color":"black","strokeWidth":1.9},"encoding":{"x":{"field":"x","type":"quantitative","axis":{"orient":"top","title":"uq56","labels":false,"ticks":false,"grid":false,"domain":false,"titleFontSize":30,"titlePadding":12}},"detail":{"field":"s","type":"nominal"}}}],"resolve":{"axis":{"x":"independent"}}},
{"width":190,"height":105,"data":{"name":"uq57"},"encoding":{"y":{"field":"d","type":"quantitative","title":"density","stack":null,"scale":{"zero":true,"nice":false,"padding":4.8},"axis":{"values":[0,0.1,0.2,0.3,0.4,0.5,0.6,0.7],"format":".1f","labelExpr":"abs(datum.value*5-round(datum.value*5))<1e-6 ? datum.label : ''","gridWidth":{"condition":{"test":"abs(datum.value*5-round(datum.value*5))<1e-6","value":1.9},"value":0.9},"tickOpacity":{"condition":{"test":"abs(datum.value*5-round(datum.value*5))<1e-6","value":1},"value":0}}}},"layer":[{"mark":{"type":"area","interpolate":"monotone","opacity":0.4},"encoding":{"x":{"field":"x","type":"quantitative","title":"Energy (kWh)","scale":{"zero":false,"nice":false,"padding":8.6},"axis":{"orient":"bottom","values":[1.25,2.5,3.75,5,6.25,7.5,8.75],"format":".1f","labelExpr":"abs(datum.value/2.5-round(datum.value/2.5))<1e-6 ? datum.label : ''","gridWidth":{"condition":{"test":"abs(datum.value/2.5-round(datum.value/2.5))<1e-6","value":1.9},"value":0.9},"tickOpacity":{"condition":{"test":"abs(datum.value/2.5-round(datum.value/2.5))<1e-6","value":1},"value":0}}},"color":{"field":"s","type":"nominal","scale":{"domain":["A","B"],"range":["#F8766D","#00BFC4"]},"legend":null}}},{"mark":{"type":"line","interpolate":"monotone","color":"black","strokeWidth":1.9},"encoding":{"x":{"field":"x","type":"quantitative","axis":{"orient":"top","title":"uq57","labels":false,"ticks":false,"grid":false,"domain":false,"titleFontSize":30,"titlePadding":12}},"detail":{"field":"s","type":"nominal"}}}],"resolve":{"axis":{"x":"independent"}}},
{"width":192,"height":105,"data":{"name":"uq61"},"encoding":{"y":{"field":"d","type":"quantitative","title":"density","stack":null,"scale":{"zero":true,"nice":false,"padding":4.8},"axis":{"values":[0,0.25,0.5,0.75,1,1.25,1.5,1.75,2],"format":".1f","labelExpr":"abs(datum.value*2-round(datum.value*2))<1e-6 ? datum.label : ''","gridWidth":{"condition":{"test":"abs(datum.value*2-round(datum.value*2))<1e-6","value":1.9},"value":0.9},"tickOpacity":{"condition":{"test":"abs(datum.value*2-round(datum.value*2))<1e-6","value":1},"value":0}}}},"layer":[{"mark":{"type":"area","interpolate":"monotone","opacity":0.4},"encoding":{"x":{"field":"x","type":"quantitative","title":"Energy (kWh)","scale":{"zero":false,"nice":false,"padding":8.7},"axis":{"orient":"bottom","values":[4,4.25,4.5,4.75,5,5.25,5.5,5.75,6,6.25],"format":".1f","labelExpr":"abs(datum.value*2-round(datum.value*2))<1e-6 ? datum.label : ''","gridWidth":{"condition":{"test":"abs(datum.value*2-round(datum.value*2))<1e-6","value":1.9},"value":0.9},"tickOpacity":{"condition":{"test":"abs(datum.value*2-round(datum.value*2))<1e-6","value":1},"value":0}}},"color":{"field":"s","type":"nominal","scale":{"domain":["A","B"],"range":["#F8766D","#00BFC4"]},"legend":null}}},{"mark":{"type":"line","interpolate":"monotone","color":"black","strokeWidth":1.9},"encoding":{"x":{"field":"x","type":"quantitative","axis":{"orient":"top","title":"uq61","labels":false,"ticks":false,"grid":false,"domain":false,"titleFontSize":30,"titlePadding":12}},"detail":{"field":"s","type":"nominal"}}}],"resolve":{"axis":{"x":"independent"}}},
{"width":189,"height":105,"data":{"name":"uq67"},"encoding":{"y":{"field":"d","type":"quantitative","title":"density","stack":null,"scale":{"zero":true,"nice":false,"padding":4.8},"axis":{"values":[0,0.1,0.2,0.3,0.4,0.5],"format":".1f","labelExpr":"abs(datum.value*5-round(datum.value*5))<1e-6 ? datum.label : ''","gridWidth":{"condition":{"test":"abs(datum.value*5-round(datum.value*5))<1e-6","value":1.9},"value":0.9},"tickOpacity":{"condition":{"test":"abs(datum.value*5-round(datum.value*5))<1e-6","value":1},"value":0}}}},"layer":[{"mark":{"type":"area","interpolate":"monotone","opacity":0.4},"encoding":{"x":{"field":"x","type":"quantitative","title":"Energy (kWh)","scale":{"zero":false,"nice":false,"padding":8.6},"axis":{"orient":"bottom","values":[1,2,3,4,5,6,7,8],"format":".0f","labelExpr":"abs(datum.value/2-round(datum.value/2))<1e-6 ? datum.label : ''","gridWidth":{"condition":{"test":"abs(datum.value/2-round(datum.value/2))<1e-6","value":1.9},"value":0.9},"tickOpacity":{"condition":{"test":"abs(datum.value/2-round(datum.value/2))<1e-6","value":1},"value":0}}},"color":{"field":"s","type":"nominal","scale":{"domain":["A","B"],"range":["#F8766D","#00BFC4"]},"legend":null}}},{"mark":{"type":"line","interpolate":"monotone","color":"black","strokeWidth":1.9},"encoding":{"x":{"field":"x","type":"quantitative","axis":{"orient":"top","title":"uq67","labels":false,"ticks":false,"grid":false,"domain":false,"titleFontSize":30,"titlePadding":12}},"detail":{"field":"s","type":"nominal"}}}],"resolve":{"axis":{"x":"independent"}}},
{"width":194,"height":105,"data":{"name":"uq68"},"encoding":{"y":{"field":"d","type":"quantitative","title":"density","stack":null,"scale":{"zero":true,"nice":false,"padding":4.8},"axis":{"values":[0,0.1,0.2,0.3,0.4,0.5,0.6,0.7],"format":".1f","labelExpr":"abs(datum.value*5-round(datum.value*5))<1e-6 ? datum.label : ''","gridWidth":{"condition":{"test":"abs(datum.value*5-round(datum.value*5))<1e-6","value":1.9},"value":0.9},"tickOpacity":{"condition":{"test":"abs(datum.value*5-round(datum.value*5))<1e-6","value":1},"value":0}}}},"layer":[{"mark":{"type":"area","interpolate":"monotone","opacity":0.4},"encoding":{"x":{"field":"x","type":"quantitative","title":"Energy (kWh)","scale":{"zero":false,"nice":false,"padding":8.7},"axis":{"orient":"bottom","values":[4.5,5,5.5,6,6.5,7,7.5,8,8.5],"format":".0f","labelExpr":"abs(datum.value-round(datum.value))<1e-6 ? datum.label : ''","gridWidth":{"condition":{"test":"abs(datum.value-round(datum.value))<1e-6","value":1.9},"value":0.9},"tickOpacity":{"condition":{"test":"abs(datum.value-round(datum.value))<1e-6","value":1},"value":0}}},"color":{"field":"s","type":"nominal","scale":{"domain":["A","B"],"range":["#F8766D","#00BFC4"]},"legend":null}}},{"mark":{"type":"line","interpolate":"monotone","color":"black","strokeWidth":1.9},"encoding":{"x":{"field":"x","type":"quantitative","axis":{"orient":"top","title":"uq68","labels":false,"ticks":false,"grid":false,"domain":false,"titleFontSize":30,"titlePadding":12}},"detail":{"field":"s","type":"nominal"}}}],"resolve":{"axis":{"x":"independent"}}},
{"width":190,"height":105,"data":{"name":"uq75"},"encoding":{"y":{"field":"d","type":"quantitative","title":"density","stack":null,"scale":{"zero":true,"nice":false,"padding":4.8},"axis":{"values":[0,0.1,0.2,0.3,0.4,0.5,0.6,0.7],"format":".1f","labelExpr":"abs(datum.value*5-round(datum.value*5))<1e-6 ? datum.label : ''","gridWidth":{"condition":{"test":"abs(datum.value*5-round(datum.value*5))<1e-6","value":1.9},"value":0.9},"tickOpacity":{"condition":{"test":"abs(datum.value*5-round(datum.value*5))<1e-6","value":1},"value":0}}}},"layer":[{"mark":{"type":"area","interpolate":"monotone","opacity":0.4},"encoding":{"x":{"field":"x","type":"quantitative","title":"Energy (kWh)","scale":{"zero":false,"nice":false,"padding":8.6},"axis":{"orient":"bottom","values":[0.5,1,1.5,2,2.5,3,3.5,4,4.5,5,5.5],"format":".0f","labelExpr":"abs(datum.value-round(datum.value))<1e-6 ? datum.label : ''","gridWidth":{"condition":{"test":"abs(datum.value-round(datum.value))<1e-6","value":1.9},"value":0.9},"tickOpacity":{"condition":{"test":"abs(datum.value-round(datum.value))<1e-6","value":1},"value":0}}},"color":{"field":"s","type":"nominal","scale":{"domain":["A","B"],"range":["#F8766D","#00BFC4"]},"legend":null}}},{"mark":{"type":"line","interpolate":"monotone","color":"black","strokeWidth":1.9},"encoding":{"x":{"field":"x","type":"quantitative","axis":{"orient":"top","title":"uq75","labels":false,"ticks":false,"grid":false,"domain":false,"titleFontSize":30,"titlePadding":12}},"detail":{"field":"s","type":"nominal"}}}],"resolve":{"axis":{"x":"independent"}}},
{"width":192,"height":105,"data":{"name":"uq85"},"encoding":{"y":{"field":"d","type":"quantitative","title":"density","stack":null,"scale":{"zero":true,"nice":false,"padding":4.8},"axis":{"values":[0,0.1,0.2,0.3,0.4,0.5,0.6,0.7],"format":".1f","labelExpr":"abs(datum.value*5-round(datum.value*5))<1e-6 ? datum.label : ''","gridWidth":{"condition":{"test":"abs(datum.value*5-round(datum.value*5))<1e-6","value":1.9},"value":0.9},"tickOpacity":{"condition":{"test":"abs(datum.value*5-round(datum.value*5))<1e-6","value":1},"value":0}}}},"layer":[{"mark":{"type":"area","interpolate":"monotone","opacity":0.4},"encoding":{"x":{"field":"x","type":"quantitative","title":"Energy (kWh)","scale":{"zero":false,"nice":false,"padding":8.7},"axis":{"orient":"bottom","values":[2,3,4,5,6,7,8],"format":".0f","labelExpr":"abs(datum.value/2-round(datum.value/2))<1e-6 ? datum.label : ''","gridWidth":{"condition":{"test":"abs(datum.value/2-round(datum.value/2))<1e-6","value":1.9},"value":0.9},"tickOpacity":{"condition":{"test":"abs(datum.value/2-round(datum.value/2))<1e-6","value":1},"value":0}}},"color":{"field":"s","type":"nominal","scale":{"domain":["A","B"],"range":["#F8766D","#00BFC4"]},"legend":null}}},{"mark":{"type":"line","interpolate":"monotone","color":"black","strokeWidth":1.9},"encoding":{"x":{"field":"x","type":"quantitative","axis":{"orient":"top","title":"uq85","labels":false,"ticks":false,"grid":false,"domain":false,"titleFontSize":30,"titlePadding":12}},"detail":{"field":"s","type":"nominal"}}}],"resolve":{"axis":{"x":"independent"}}},
{"width":189,"height":105,"data":{"name":"uq88"},"encoding":{"y":{"field":"d","type":"quantitative","title":"density","stack":null,"scale":{"zero":true,"nice":false,"padding":4.8},"axis":{"values":[0,0.05,0.1,0.15,0.2,0.25,0.3,0.35],"format":".1f","labelExpr":"abs(datum.value*10-round(datum.value*10))<1e-6 ? datum.label : ''","gridWidth":{"condition":{"test":"abs(datum.value*10-round(datum.value*10))<1e-6","value":1.9},"value":0.9},"tickOpacity":{"condition":{"test":"abs(datum.value*10-round(datum.value*10))<1e-6","value":1},"value":0}}}},"layer":[{"mark":{"type":"area","interpolate":"monotone","opacity":0.4},"encoding":{"x":{"field":"x","type":"quantitative","title":"Energy (kWh)","scale":{"zero":false,"nice":false,"padding":8.6},"axis":{"orient":"bottom","values":[4,5,6,7,8,9,10,11,12],"format":".0f","labelExpr":"abs(datum.value/2-round(datum.value/2))<1e-6 ? datum.label : ''","gridWidth":{"condition":{"test":"abs(datum.value/2-round(datum.value/2))<1e-6","value":1.9},"value":0.9},"tickOpacity":{"condition":{"test":"abs(datum.value/2-round(datum.value/2))<1e-6","value":1},"value":0}}},"color":{"field":"s","type":"nominal","scale":{"domain":["A","B"],"range":["#F8766D","#00BFC4"]},"legend":null}}},{"mark":{"type":"line","interpolate":"monotone","color":"black","strokeWidth":1.9},"encoding":{"x":{"field":"x","type":"quantitative","axis":{"orient":"top","title":"uq88","labels":false,"ticks":false,"grid":false,"domain":false,"titleFontSize":30,"titlePadding":12}},"detail":{"field":"s","type":"nominal"}}}],"resolve":{"axis":{"x":"independent"}}},
{"width":194,"height":105,"data":{"name":"uq92"},"encoding":{"y":{"field":"d","type":"quantitative","title":"density","stack":null,"scale":{"zero":true,"nice":false,"padding":4.8},"axis":{"values":[0,0.25,0.5,0.75,1,1.25,1.5,1.75,2],"format":".1f","labelExpr":"abs(datum.value*2-round(datum.value*2))<1e-6 ? datum.label : ''","gridWidth":{"condition":{"test":"abs(datum.value*2-round(datum.value*2))<1e-6","value":1.9},"value":0.9},"tickOpacity":{"condition":{"test":"abs(datum.value*2-round(datum.value*2))<1e-6","value":1},"value":0}}}},"layer":[{"mark":{"type":"area","interpolate":"monotone","opacity":0.4},"encoding":{"x":{"field":"x","type":"quantitative","title":"Energy (kWh)","scale":{"zero":false,"nice":false,"padding":8.7},"axis":{"orient":"bottom","values":[0.5,1,1.5,2,2.5,3,3.5],"format":".0f","labelExpr":"abs(datum.value-round(datum.value))<1e-6 ? datum.label : ''","gridWidth":{"condition":{"test":"abs(datum.value-round(datum.value))<1e-6","value":1.9},"value":0.9},"tickOpacity":{"condition":{"test":"abs(datum.value-round(datum.value))<1e-6","value":1},"value":0}}},"color":{"field":"s","type":"nominal","scale":{"domain":["A","B"],"range":["#F8766D","#00BFC4"]},"legend":null}}},{"mark":{"type":"line","interpolate":"monotone","color":"black","strokeWidth":1.9},"encoding":{"x":{"field":"x","type":"quantitative","axis":{"orient":"top","title":"uq92","labels":false,"ticks":false,"grid":false,"domain":false,"titleFontSize":30,"titlePadding":12}},"detail":{"field":"s","type":"nominal"}}}],"resolve":{"axis":{"x":"independent"}}}
],
"config": {
"font": "Liberation Sans",
"view": {"fill": "#EBEBEB", "stroke": null},
"axis": {"domain": false, "gridColor": "#FFFFFF", "tickColor": "#333333", "tickSize": 5, "tickWidth": 1.6, "labelColor": "#4D4D4D", "labelFont": "Liberation Sans", "labelFontSize": 20, "titleFont": "Liberation Sans", "titleFontSize": 25, "titleFontWeight": "normal", "titleColor": "#000000", "labelPadding": 3, "labelFlush": false, "labelOverlap": false},
"axisX": {"titlePadding": 6},
"axisY": {"titlePadding": 8}
}
}
